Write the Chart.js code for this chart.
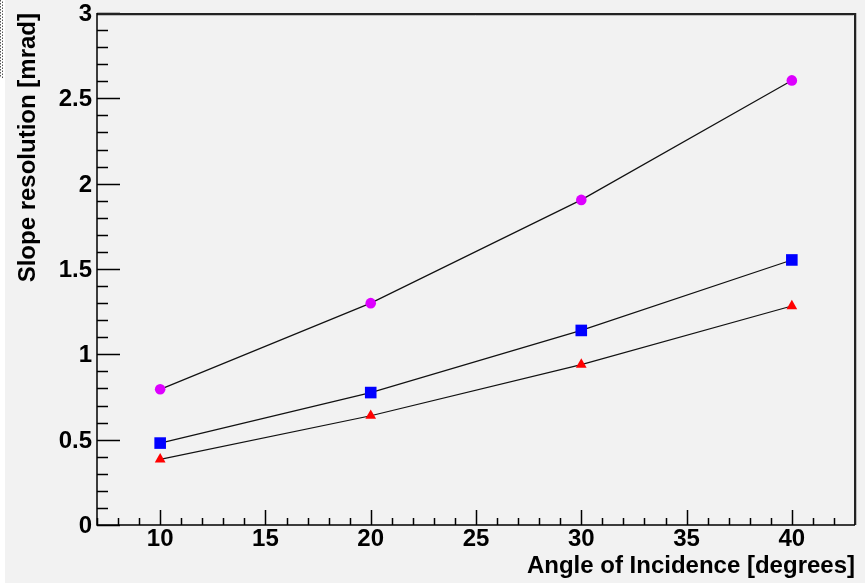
<!DOCTYPE html>
<html>
<head>
<meta charset="utf-8">
<script src="https://cdn.jsdelivr.net/npm/chart.js@4.4.1/dist/chart.umd.min.js"></script>
<style>
html,body{margin:0;padding:0;background:#f2f2f2;}
#wrap{width:865px;height:583px;position:relative;}
</style>
</head>
<body>
<div id="wrap"><canvas id="c" width="865" height="583"></canvas></div>
<script>
const angles = [10, 20, 30, 40];
const seriesMagenta = [0.795, 1.30, 1.905, 2.605];
const seriesBlue = [0.48, 0.776, 1.14, 1.553];
const seriesRed = [0.385, 0.64, 0.94, 1.283];
const xTickValues = [10, 15, 20, 25, 30, 35, 40];
const yTickValues = [0, 0.5, 1, 1.5, 2, 2.5, 3];
const yTickLabels = ['0', '0.5', '1', '1.5', '2', '2.5', '3'];
const xTitle = 'Angle of Incidence [degrees]';
const yTitle = 'Slope resolution [mrad]';

const FONT = "'Liberation Sans', Arial, sans-serif";

function pts(ys){ return angles.map((x,i)=>({x:x, y:ys[i]})); }

const innerTicks = {
  id: 'innerTicks',
  afterDatasetsDraw(chart){
    const ctx = chart.ctx, a = chart.chartArea;
    const xs = chart.scales.x, ys = chart.scales.y;
    ctx.save();
    ctx.strokeStyle = '#000';
    ctx.lineWidth = 1.5;
    ctx.beginPath();
    for (let v = Math.ceil(xs.min); v <= xs.max; v++){
      const px = Math.round(xs.getPixelForValue(v)) + 0.5;
      const len = (v % 5 === 0) ? 15 : 7;
      ctx.moveTo(px, a.bottom); ctx.lineTo(px, a.bottom - len);
    }
    for (let k = 0; k <= 30; k++){
      const v = k / 10;
      const py = Math.round(ys.getPixelForValue(v)) + 0.5;
      const len = (k % 5 === 0) ? 23 : 11;
      ctx.moveTo(a.left, py); ctx.lineTo(a.left + len, py);
    }
    ctx.stroke();
    // frame
    ctx.strokeStyle = '#bbbbbb';
    ctx.lineWidth = 1;
    ctx.beginPath();
    ctx.moveTo(a.left, a.top + 2.5); ctx.lineTo(a.right - 1.5, a.top + 2.5);
    ctx.moveTo(a.right + 1.5, a.top); ctx.lineTo(a.right + 1.5, a.bottom);
    ctx.stroke();
    ctx.strokeStyle = '#222';
    ctx.lineWidth = 2;
    ctx.beginPath();
    ctx.moveTo(a.left, a.top + 1); ctx.lineTo(a.right, a.top + 1);
    ctx.moveTo(a.right, a.top); ctx.lineTo(a.right, a.bottom);
    ctx.stroke();
    ctx.strokeStyle = '#000';
    ctx.lineWidth = 1.5;
    ctx.beginPath();
    ctx.moveTo(a.left, a.top); ctx.lineTo(a.left, a.bottom);
    ctx.lineTo(a.right, a.bottom);
    ctx.stroke();
    // y tick labels
    ctx.fillStyle = '#000';
    ctx.font = 'bold 24px ' + FONT;
    ctx.textAlign = 'right';
    ctx.textBaseline = 'middle';
    yTickValues.forEach((v, i) => {
      ctx.fillText(yTickLabels[i], a.left - 5, ys.getPixelForValue(v) + 1.5);
    });
    ctx.restore();
  }
};

const bgPlugin = {
  id: 'bg',
  beforeDraw(chart){
    const ctx = chart.ctx;
    ctx.save();
    ctx.fillStyle = '#f2f2f2';
    ctx.fillRect(0, 0, chart.width, chart.height);
    ctx.fillStyle = '#ffffff';
    ctx.fillRect(0, 0, 5, chart.height);
    ctx.fillStyle = '#555';
    for (let y = 0; y < 76; y += 3){
      ctx.fillRect(0, y, 1, 1.5);
      ctx.fillRect(2, y + 1.5, 1, 1.5);
    }
    ctx.restore();
  }
};

new Chart(document.getElementById('c'), {
  type: 'scatter',
  data: {
    datasets: [
      {data: pts(seriesMagenta), showLine: true, borderColor: '#111', borderWidth: 1.2,
       pointStyle: 'circle', pointRadius: 5.3, pointBackgroundColor: '#dd00ff', pointBorderColor: '#dd00ff', pointBorderWidth: 0},
      {data: pts(seriesBlue), showLine: true, borderColor: '#111', borderWidth: 1.2,
       pointStyle: 'rect', pointRadius: 8.2, pointBackgroundColor: '#0000ff', pointBorderColor: '#0000ff', pointBorderWidth: 0},
      {data: pts(seriesRed), showLine: true, borderColor: '#111', borderWidth: 1.2,
       pointStyle: 'triangle', pointRadius: 6.2, pointBackgroundColor: '#ff0000', pointBorderColor: '#ff0000', pointBorderWidth: 0}
    ]
  },
  options: {
    responsive: false,
    animation: false,
    layout: {padding: {left: 0, top: 13, right: 10, bottom: 0}},
    plugins: {legend: {display: false}, tooltip: {enabled: false}},
    scales: {
      x: {
        type: 'linear', min: 7, max: 43,
        afterBuildTicks(s){ s.ticks = xTickValues.map(v => ({value: v})); },
        afterFit(s){ s.height = 58; },
        grid: {display: false, drawTicks: false},
        border: {display: false},
        ticks: {color: '#000', padding: 0, font: {family: FONT, size: 24, weight: 'bold'}, maxRotation: 0},
        title: {display: true, text: xTitle, align: 'end', color: '#000',
                font: {family: FONT, size: 24, weight: 'bold'}, padding: {top: 0, bottom: 2}}
      },
      y: {
        type: 'linear', min: 0, max: 3,
        afterBuildTicks(s){ s.ticks = yTickValues.map(v => ({value: v})); },
        afterFit(s){ s.width = 97; },
        grid: {display: false, drawTicks: false},
        border: {display: false},
        ticks: {display: false},
        title: {display: true, text: yTitle, align: 'end', color: '#000',
                font: {family: FONT, size: 24, weight: 'bold'}, padding: {top: 14, bottom: 0}}
      }
    }
  },
  plugins: [bgPlugin, innerTicks]
});
</script>
</body>
</html>
